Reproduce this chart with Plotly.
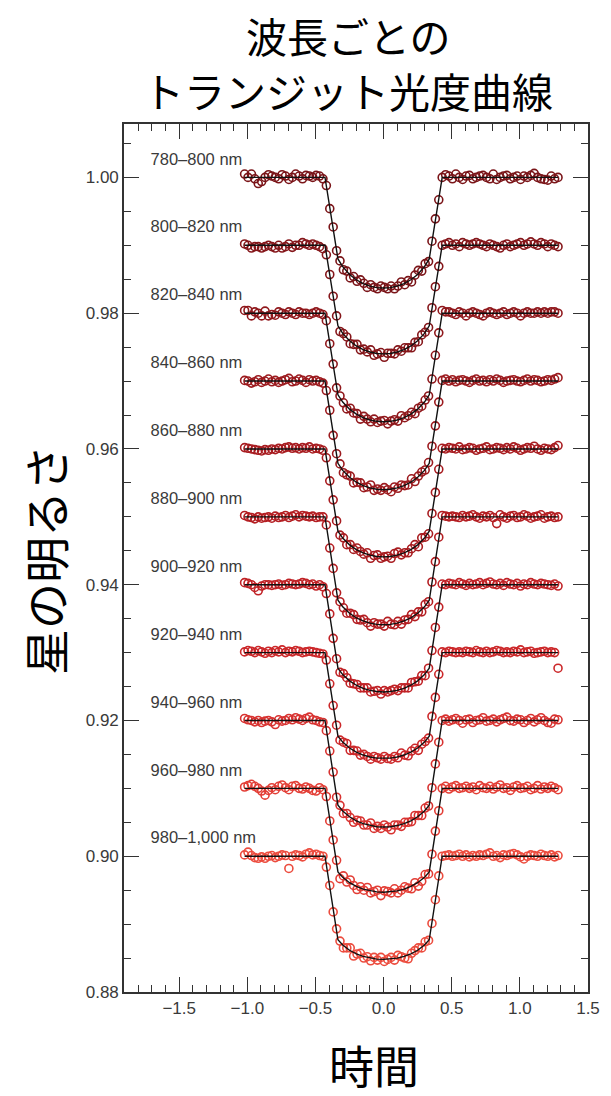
import plotly.graph_objects as go

# ---------------- data ----------------
time = [-1.02, -0.995, -0.97, -0.945, -0.92, -0.895, -0.87, -0.845, -0.82, -0.795, -0.77, -0.745,
        -0.72, -0.695, -0.67, -0.645, -0.62, -0.595, -0.57, -0.545, -0.52, -0.495, -0.47, -0.445,
        -0.42, -0.395, -0.37, -0.345, -0.32, -0.295, -0.27, -0.245, -0.22, -0.195, -0.17, -0.145,
        -0.12, -0.095, -0.07, -0.045, -0.02, 0.005, 0.03, 0.055, 0.08, 0.105, 0.13, 0.155, 0.18,
        0.205, 0.23, 0.255, 0.28, 0.305, 0.33, 0.355, 0.38, 0.405,
        0.43, 0.455, 0.48, 0.505, 0.53, 0.555, 0.58, 0.605, 0.63, 0.655, 0.68, 0.705, 0.73, 0.755,
        0.78, 0.805, 0.83, 0.855, 0.88, 0.905, 0.93, 0.955, 0.98, 1.005, 1.03, 1.055, 1.08, 1.105,
        1.13, 1.155, 1.18, 1.205, 1.23, 1.255, 1.28]

band_labels = ["780–800 nm", "800–820 nm", "820–840 nm", "840–860 nm", "860–880 nm", "880–900 nm",
               "900–920 nm", "920–940 nm", "940–960 nm", "960–980 nm", "980–1,000 nm"]
offsets = [0.00, -0.01, -0.02, -0.03, -0.04, -0.05, -0.06, -0.07, -0.08, -0.09, -0.10]

flux_780_800 = [1.0005, 1.0000, 1.0005, 0.9998, 0.9991, 0.9994, 1.0000, 1.0004, 1.0002, 1.0000, 0.9998, 1.0004,
                1.0002, 0.9997, 1.0000, 1.0005, 1.0002, 0.9998, 1.0003, 1.0002, 1.0000, 1.0003, 1.0002, 0.9998,
                0.9988, 0.9954, 0.9927, 0.9892, 0.9877, 0.9864, 0.9862, 0.9852, 0.9854, 0.9847, 0.9849, 0.9844,
                0.9838, 0.9842, 0.9838, 0.9836, 0.9840, 0.9838, 0.9836, 0.9840, 0.9836, 0.9840, 0.9846, 0.9842,
                0.9848, 0.9846, 0.9856, 0.9863, 0.9862, 0.9873, 0.9876, 0.9906, 0.9939, 0.9967,
                1.0000, 1.0004, 1.0002, 0.9998, 1.0005, 1.0000, 0.9997, 1.0002, 1.0003, 0.9998, 1.0000, 1.0002,
                1.0003, 1.0000, 0.9998, 1.0005, 0.9997, 1.0000, 1.0002, 1.0003, 0.9998, 1.0000, 1.0002, 0.9997,
                1.0002, 1.0000, 1.0003, 1.0006, 1.0000, 0.9998, 0.9997, 0.9996, 1.0002, 0.9998, 1.0000]
flux_800_820 = [1.0002, 1.0000, 0.9996, 0.9998, 0.9998, 0.9996, 0.9998, 1.0000, 0.9998, 0.9996, 1.0000, 0.9996,
                0.9998, 1.0002, 0.9997, 1.0000, 1.0000, 1.0004, 1.0002, 1.0000, 1.0002, 1.0000, 0.9998, 0.9995,
                0.9986, 0.9957, 0.9925, 0.9896, 0.9873, 0.9870, 0.9865, 0.9855, 0.9854, 0.9854, 0.9846, 0.9847,
                0.9843, 0.9846, 0.9838, 0.9840, 0.9842, 0.9835, 0.9841, 0.9841, 0.9840, 0.9846, 0.9844, 0.9849,
                0.9849, 0.9849, 0.9857, 0.9858, 0.9868, 0.9872, 0.9879, 0.9908, 0.9939, 0.9969,
                1.0000, 1.0002, 1.0004, 1.0000, 1.0002, 0.9998, 1.0004, 1.0002, 1.0000, 1.0002, 1.0004, 1.0002,
                1.0000, 0.9998, 1.0002, 1.0000, 0.9998, 0.9996, 1.0000, 1.0002, 0.9998, 1.0000, 1.0002, 1.0004,
                1.0000, 1.0002, 1.0005, 1.0002, 1.0000, 1.0004, 1.0002, 0.9998, 1.0002, 1.0000, 0.9998]
flux_820_840 = [1.0004, 1.0004, 0.9996, 1.0002, 1.0000, 0.9996, 1.0003, 0.9996, 0.9998, 0.9997, 1.0002, 1.0000,
                0.9998, 1.0002, 1.0000, 0.9998, 1.0002, 1.0000, 1.0000, 0.9998, 1.0000, 1.0002, 1.0000, 0.9998,
                0.9989, 0.9955, 0.9925, 0.9890, 0.9878, 0.9868, 0.9859, 0.9860, 0.9853, 0.9852, 0.9844, 0.9848,
                0.9844, 0.9840, 0.9844, 0.9839, 0.9841, 0.9842, 0.9837, 0.9841, 0.9843, 0.9841, 0.9849, 0.9846,
                0.9849, 0.9854, 0.9852, 0.9860, 0.9863, 0.9872, 0.9878, 0.9903, 0.9938, 0.9971,
                1.0004, 1.0002, 1.0002, 1.0000, 0.9998, 1.0002, 1.0000, 0.9996, 1.0000, 1.0002, 1.0000, 0.9998,
                0.9996, 1.0000, 1.0002, 1.0000, 0.9998, 1.0000, 1.0002, 0.9998, 1.0000, 1.0002, 1.0000, 0.9996,
                1.0000, 1.0002, 1.0000, 1.0000, 1.0002, 1.0000, 1.0002, 1.0000, 1.0002, 1.0002, 1.0000]
flux_840_860 = [1.0001, 1.0000, 0.9997, 0.9999, 1.0002, 0.9998, 1.0000, 1.0003, 0.9999, 1.0001, 0.9998, 1.0000,
                1.0002, 1.0004, 0.9999, 1.0000, 1.0003, 1.0001, 0.9998, 1.0002, 1.0000, 1.0001, 0.9999, 0.9997,
                0.9986, 0.9957, 0.9920, 0.9893, 0.9878, 0.9865, 0.9862, 0.9860, 0.9850, 0.9851, 0.9850, 0.9843,
                0.9844, 0.9847, 0.9839, 0.9841, 0.9839, 0.9843, 0.9840, 0.9837, 0.9844, 0.9842, 0.9847, 0.9846,
                0.9847, 0.9856, 0.9852, 0.9860, 0.9866, 0.9869, 0.9880, 0.9904, 0.9934, 0.9969,
                1.0001, 1.0003, 1.0000, 1.0002, 0.9999, 1.0001, 1.0002, 1.0000, 0.9998, 1.0001, 1.0003, 1.0000,
                1.0001, 0.9999, 1.0002, 1.0000, 1.0003, 1.0001, 0.9998, 1.0000, 1.0001, 1.0002, 1.0000, 0.9999,
                1.0001, 1.0003, 1.0000, 1.0002, 1.0001, 0.9999, 1.0000, 1.0002, 1.0001, 1.0003, 1.0005]
flux_860_880 = [1.0002, 1.0001, 1.0000, 0.9999, 0.9998, 0.9997, 0.9999, 0.9998, 1.0000, 0.9999, 1.0001, 1.0000,
                1.0002, 1.0003, 1.0001, 1.0002, 1.0000, 1.0002, 1.0001, 1.0003, 1.0000, 1.0001, 1.0000, 0.9998,
                0.9987, 0.9953, 0.9925, 0.9894, 0.9873, 0.9869, 0.9859, 0.9859, 0.9852, 0.9854, 0.9849, 0.9845,
                0.9847, 0.9839, 0.9843, 0.9844, 0.9839, 0.9841, 0.9842, 0.9839, 0.9846, 0.9848, 0.9844, 0.9847,
                0.9847, 0.9853, 0.9859, 0.9856, 0.9869, 0.9870, 0.9875, 0.9905, 0.9936, 0.9970,
                1.0001, 1.0000, 1.0002, 1.0001, 1.0000, 1.0003, 0.9999, 1.0000, 1.0002, 1.0001, 0.9998, 1.0000,
                1.0001, 1.0003, 0.9999, 1.0000, 1.0002, 1.0001, 0.9999, 1.0002, 1.0000, 1.0003, 1.0001, 0.9998,
                1.0000, 1.0002, 1.0001, 1.0004, 1.0000, 0.9998, 1.0001, 1.0000, 0.9999, 1.0002, 1.0005]
flux_880_900 = [1.0002, 1.0000, 0.9999, 0.9997, 1.0000, 0.9998, 0.9999, 1.0000, 0.9998, 1.0001, 0.9999, 1.0000,
                1.0002, 0.9999, 1.0001, 1.0003, 1.0000, 1.0002, 1.0001, 1.0000, 1.0001, 0.9999, 1.0000, 1.0000,
                0.9988, 0.9954, 0.9924, 0.9888, 0.9875, 0.9866, 0.9858, 0.9858, 0.9856, 0.9849, 0.9848, 0.9849,
                0.9844, 0.9839, 0.9844, 0.9842, 0.9842, 0.9839, 0.9846, 0.9842, 0.9841, 0.9846, 0.9842, 0.9848,
                0.9849, 0.9856, 0.9853, 0.9860, 0.9860, 0.9871, 0.9875, 0.9904, 0.9934, 0.9970,
                1.0002, 1.0001, 1.0000, 1.0001, 1.0000, 0.9999, 1.0002, 1.0000, 1.0001, 1.0003, 1.0000, 0.9998,
                1.0001, 1.0000, 1.0002, 0.9999, 0.9990, 1.0003, 1.0000, 0.9998, 1.0001, 1.0002, 0.9999, 1.0000,
                1.0003, 1.0001, 0.9998, 1.0000, 1.0001, 1.0003, 0.9998, 1.0000, 1.0001, 0.9999, 1.0000]
flux_900_920 = [1.0003, 1.0002, 1.0000, 0.9996, 0.9991, 0.9998, 1.0000, 1.0000, 0.9999, 1.0000, 1.0001, 0.9999,
                1.0000, 1.0002, 1.0001, 1.0000, 1.0001, 1.0003, 1.0002, 1.0000, 1.0001, 0.9998, 1.0000, 0.9997,
                0.9987, 0.9957, 0.9921, 0.9891, 0.9871, 0.9869, 0.9863, 0.9855, 0.9854, 0.9853, 0.9848, 0.9848,
                0.9848, 0.9842, 0.9843, 0.9844, 0.9839, 0.9844, 0.9842, 0.9844, 0.9846, 0.9844, 0.9848, 0.9848,
                0.9848, 0.9856, 0.9857, 0.9858, 0.9866, 0.9866, 0.9877, 0.9903, 0.9937, 0.9967,
                1.0001, 1.0000, 1.0002, 1.0001, 1.0000, 1.0003, 1.0001, 0.9999, 1.0002, 1.0000, 1.0001, 1.0003,
                1.0000, 1.0002, 1.0004, 1.0001, 1.0000, 1.0002, 0.9999, 1.0003, 1.0001, 1.0000, 1.0002, 0.9998,
                1.0001, 1.0000, 1.0003, 1.0001, 1.0000, 1.0002, 1.0001, 1.0000, 0.9999, 1.0001, 0.9998]
flux_920_940 = [1.0001, 1.0003, 1.0002, 1.0000, 1.0003, 1.0001, 0.9999, 1.0002, 1.0000, 1.0003, 1.0001, 1.0004,
                1.0000, 1.0002, 1.0001, 1.0003, 1.0002, 1.0000, 1.0001, 1.0002, 1.0001, 1.0000, 0.9999, 0.9998,
                0.9989, 0.9954, 0.9922, 0.9893, 0.9871, 0.9868, 0.9866, 0.9856, 0.9856, 0.9855, 0.9849, 0.9850,
                0.9847, 0.9843, 0.9847, 0.9845, 0.9843, 0.9847, 0.9844, 0.9843, 0.9847, 0.9845, 0.9852, 0.9849,
                0.9848, 0.9855, 0.9859, 0.9856, 0.9865, 0.9869, 0.9874, 0.9906, 0.9934, 0.9968,
                1.0001, 1.0000, 1.0002, 1.0001, 1.0000, 1.0001, 1.0000, 1.0002, 1.0001, 1.0000, 1.0003, 1.0001,
                1.0000, 1.0002, 1.0000, 1.0001, 1.0003, 1.0002, 1.0000, 1.0001, 1.0000, 1.0002, 1.0001, 1.0004,
                1.0000, 1.0001, 1.0002, 0.9999, 1.0000, 1.0001, 1.0002, 1.0000, 1.0001, 1.0000, 0.9977]
flux_940_960 = [1.0003, 1.0001, 1.0000, 0.9998, 1.0000, 0.9997, 0.9999, 1.0000, 0.9998, 0.9994, 1.0001, 0.9999,
                1.0000, 1.0003, 1.0001, 1.0004, 1.0002, 1.0000, 1.0003, 1.0005, 1.0001, 1.0000, 0.9998, 0.9997,
                0.9985, 0.9955, 0.9924, 0.9887, 0.9875, 0.9863, 0.9863, 0.9857, 0.9850, 0.9853, 0.9852, 0.9846,
                0.9846, 0.9849, 0.9841, 0.9844, 0.9841, 0.9846, 0.9843, 0.9839, 0.9846, 0.9846, 0.9844, 0.9850,
                0.9850, 0.9851, 0.9860, 0.9860, 0.9860, 0.9871, 0.9874, 0.9901, 0.9936, 0.9968,
                1.0000, 1.0002, 0.9999, 1.0001, 1.0003, 1.0000, 0.9996, 1.0001, 1.0002, 0.9997, 1.0000, 1.0001,
                1.0004, 0.9999, 1.0000, 1.0002, 0.9998, 1.0001, 1.0003, 1.0005, 1.0000, 0.9999, 1.0002, 1.0001,
                0.9997, 1.0000, 1.0003, 0.9998, 1.0001, 1.0004, 1.0000, 0.9997, 0.9996, 1.0002, 1.0001]
flux_960_980 = [1.0002, 1.0004, 1.0006, 1.0003, 1.0000, 0.9996, 0.9990, 0.9997, 1.0001, 0.9998, 1.0003, 1.0005,
                1.0001, 0.9998, 1.0003, 1.0004, 1.0000, 0.9999, 1.0002, 1.0000, 0.9997, 0.9996, 1.0001, 0.9998,
                0.9988, 0.9952, 0.9924, 0.9894, 0.9867, 0.9871, 0.9862, 0.9865, 0.9857, 0.9851, 0.9855, 0.9850,
                0.9854, 0.9846, 0.9848, 0.9850, 0.9842, 0.9849, 0.9848, 0.9846, 0.9852, 0.9846, 0.9850, 0.9855,
                0.9853, 0.9852, 0.9861, 0.9856, 0.9863, 0.9873, 0.9874, 0.9903, 0.9937, 0.9967,
                1.0000, 1.0003, 0.9999, 1.0002, 1.0004, 1.0000, 1.0001, 1.0003, 1.0000, 1.0002, 0.9998, 1.0004,
                1.0001, 1.0000, 1.0003, 0.9999, 1.0002, 1.0005, 1.0000, 1.0001, 0.9997, 1.0002, 1.0004, 1.0000,
                1.0001, 1.0003, 0.9998, 1.0000, 1.0004, 0.9999, 1.0002, 1.0000, 1.0003, 1.0001, 0.9998]
flux_980_1000 = [1.0002, 1.0006, 1.0001, 0.9998, 0.9997, 0.9999, 0.9997, 1.0000, 1.0001, 0.9998, 1.0000, 1.0002,
                 1.0001, 0.9982, 1.0000, 1.0002, 1.0001, 0.9999, 1.0003, 1.0005, 1.0002, 1.0003, 1.0001, 1.0000,
                 0.9984, 0.9957, 0.9918, 0.9893, 0.9875, 0.9865, 0.9865, 0.9865, 0.9853, 0.9856, 0.9857, 0.9850,
                 0.9852, 0.9846, 0.9851, 0.9847, 0.9851, 0.9845, 0.9848, 0.9851, 0.9847, 0.9854, 0.9852, 0.9850,
                 0.9849, 0.9857, 0.9861, 0.9865, 0.9865, 0.9874, 0.9876, 0.9901, 0.9936, 0.9971,
                 1.0000, 1.0001, 1.0002, 1.0000, 1.0001, 1.0003, 1.0000, 1.0002, 0.9999, 1.0001, 1.0000, 1.0002,
                 1.0001, 1.0003, 1.0005, 1.0000, 1.0001, 0.9998, 1.0002, 1.0001, 1.0003, 1.0004, 1.0002, 0.9999,
                 0.9996, 1.0000, 1.0002, 1.0001, 1.0000, 1.0003, 1.0001, 1.0000, 1.0002, 0.9999, 1.0001]

# model (fitted transit curve) sampled at these times
model_time = [-1.02, -0.43, -0.335, -0.30, -0.25, -0.20, -0.15, -0.10, -0.05, 0.0,
              0.05, 0.10, 0.15, 0.20, 0.25, 0.30, 0.335, 0.43, 1.28]
model_780_800 = [1.0, 1.0, 0.98800, 0.98685, 0.98571, 0.98492, 0.98436, 0.98399, 0.98377, 0.98370,
                 0.98377, 0.98399, 0.98436, 0.98492, 0.98571, 0.98685, 0.98800, 1.0, 1.0]
model_800_820 = [1.0, 1.0, 0.98814, 0.98703, 0.98594, 0.98517, 0.98464, 0.98428, 0.98407, 0.98400,
                 0.98407, 0.98428, 0.98464, 0.98517, 0.98594, 0.98703, 0.98814, 1.0, 1.0]
model_820_840 = [1.0, 1.0, 0.98797, 0.98690, 0.98586, 0.98513, 0.98461, 0.98426, 0.98407, 0.98400,
                 0.98407, 0.98426, 0.98461, 0.98513, 0.98586, 0.98690, 0.98797, 1.0, 1.0]
model_840_860 = [1.0, 1.0, 0.98789, 0.98684, 0.98582, 0.98510, 0.98460, 0.98426, 0.98406, 0.98400,
                 0.98406, 0.98426, 0.98460, 0.98510, 0.98582, 0.98684, 0.98789, 1.0, 1.0]
model_860_880 = [1.0, 1.0, 0.98788, 0.98687, 0.98587, 0.98517, 0.98468, 0.98435, 0.98416, 0.98410,
                 0.98416, 0.98435, 0.98468, 0.98517, 0.98587, 0.98687, 0.98788, 1.0, 1.0]
model_880_900 = [1.0, 1.0, 0.98771, 0.98674, 0.98579, 0.98512, 0.98466, 0.98434, 0.98416, 0.98410,
                 0.98416, 0.98434, 0.98466, 0.98512, 0.98579, 0.98674, 0.98771, 1.0, 1.0]
model_900_920 = [1.0, 1.0, 0.98771, 0.98676, 0.98584, 0.98519, 0.98474, 0.98443, 0.98426, 0.98420,
                 0.98426, 0.98443, 0.98474, 0.98519, 0.98584, 0.98676, 0.98771, 1.0, 1.0]
model_920_940 = [1.0, 1.0, 0.98769, 0.98681, 0.98594, 0.98533, 0.98491, 0.98462, 0.98445, 0.98440,
                 0.98445, 0.98462, 0.98491, 0.98533, 0.98594, 0.98681, 0.98769, 1.0, 1.0]
model_940_960 = [1.0, 1.0, 0.98753, 0.98666, 0.98581, 0.98522, 0.98480, 0.98452, 0.98435, 0.98430,
                 0.98435, 0.98452, 0.98480, 0.98522, 0.98581, 0.98666, 0.98753, 1.0, 1.0]
model_960_980 = [1.0, 1.0, 0.98769, 0.98689, 0.98610, 0.98555, 0.98516, 0.98490, 0.98475, 0.98470,
                 0.98475, 0.98490, 0.98516, 0.98555, 0.98610, 0.98689, 0.98769, 1.0, 1.0]
model_980_1000 = [1.0, 1.0, 0.98769, 0.98691, 0.98615, 0.98562, 0.98524, 0.98499, 0.98485, 0.98480,
                  0.98485, 0.98499, 0.98524, 0.98562, 0.98615, 0.98691, 0.98769, 1.0, 1.0]

fluxes = [flux_780_800, flux_800_820, flux_820_840, flux_840_860, flux_860_880, flux_880_900,
          flux_900_920, flux_920_940, flux_940_960, flux_960_980, flux_980_1000]
models = [model_780_800, model_800_820, model_820_840, model_840_860, model_860_880, model_880_900,
          model_900_920, model_920_940, model_940_960, model_960_980, model_980_1000]

# ---------------- style ----------------
colors = ["#7a1418", "#85161a", "#90181c", "#9c1a1e", "#a81c20", "#b41e22",
          "#c02226", "#cc282a", "#d83230", "#e33e36", "#ec4c3e"]
TXT = "#3a3a3a"
AX = "#333333"

fig = go.Figure()
for flux, off, col in zip(fluxes, offsets, colors):
    assert len(flux) == len(time), len(flux)
    fig.add_trace(go.Scatter(
        x=time, y=[v + off for v in flux], mode="markers",
        marker=dict(symbol="circle-open", size=8, color=col, line=dict(width=1.6, color=col)),
        showlegend=False, hoverinfo="skip"))
for model, off in zip(models, offsets):
    fig.add_trace(go.Scatter(
        x=model_time, y=[v + off for v in model], mode="lines",
        line=dict(color="#111111", width=1.4),
        showlegend=False, hoverinfo="skip"))

fig.add_trace(go.Scatter(
    x=[-1.71] * len(band_labels), y=[1.0 + o + 0.0025 for o in offsets],
    mode="text", text=band_labels, textposition="middle right",
    textfont=dict(family="Liberation Sans", size=16.5, color=TXT),
    showlegend=False, hoverinfo="skip"))

L, R, T, B = 124, 11, 124, 104
W, H = 611, 1096
pw, ph = W - L - R, H - T - B


def px(xp):
    return (xp - L) / pw


def py(yp):
    return (H - B - yp) / ph


fig.update_layout(
    width=W, height=H,
    margin=dict(l=L, r=R, t=T, b=B),
    paper_bgcolor="white", plot_bgcolor="white",
    xaxis=dict(range=[-1.905, 1.5], tickmode="linear", tick0=0, dtick=0.5, tickformat=".1f",
               ticks="inside", ticklen=15, tickwidth=1.3, tickcolor=AX,
               showline=True, linecolor=AX, linewidth=1.6, mirror="allticks",
               showgrid=False, zeroline=False,
               tickfont=dict(family="Liberation Sans", size=17, color=TXT),
               minor=dict(ticks="inside", tickmode="linear", tick0=0, dtick=0.1,
                          ticklen=7, tickwidth=1.2, tickcolor=AX, showgrid=False)),
    yaxis=dict(range=[0.88, 1.00787], tickmode="linear", tick0=0.88, dtick=0.02, tickformat=".2f",
               ticks="inside", ticklen=15, tickwidth=1.3, tickcolor=AX,
               showline=True, linecolor=AX, linewidth=1.6, mirror="allticks",
               showgrid=False, zeroline=False,
               tickfont=dict(family="Liberation Sans", size=17, color=TXT),
               minor=dict(ticks="inside", tickmode="linear", tick0=0.88, dtick=0.005,
                          ticklen=7, tickwidth=1.2, tickcolor=AX, showgrid=False)),
    annotations=[
        dict(text="波長ごとの", x=px(354), y=py(35), xref="paper", yref="paper",
             xanchor="center", yanchor="middle", showarrow=False,
             font=dict(family="Noto Sans CJK JP", size=41, color="black")),
        dict(text="トランジット光度曲線", x=px(354), y=py(90), xref="paper", yref="paper",
             xanchor="center", yanchor="middle", showarrow=False,
             font=dict(family="Noto Sans CJK JP", size=41, color="black")),
        dict(text="星の明るさ", x=px(42), y=py(560), xref="paper", yref="paper",
             xanchor="center", yanchor="middle", showarrow=False, textangle=-90,
             font=dict(family="Noto Sans CJK JP", size=46, color="black")),
        dict(text="時間", x=px(380), y=py(1064), xref="paper", yref="paper",
             xanchor="center", yanchor="middle", showarrow=False,
             font=dict(family="Noto Sans CJK JP", size=45, color="black")),
    ],
)

fig.write_html("out.html")
